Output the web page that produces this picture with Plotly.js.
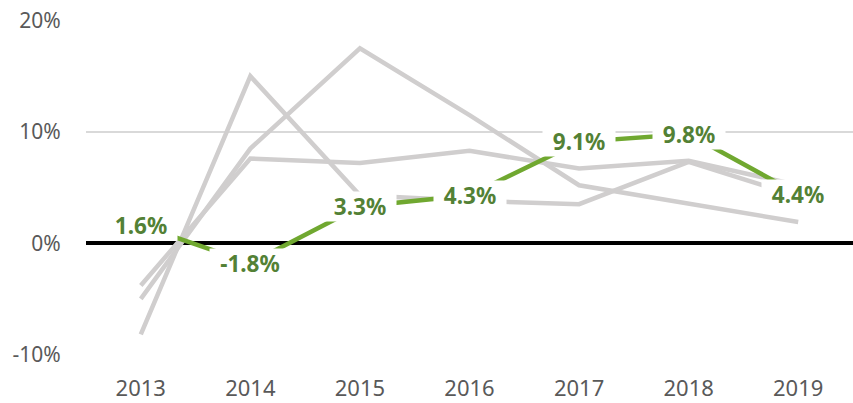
<!DOCTYPE html>
<html>
<head>
<meta charset="utf-8">
<script src="https://cdn.plot.ly/plotly-3.0.1.min.js"></script>
<style>html,body{margin:0;padding:0;background:#fff;}#chart{width:853px;height:403px;}</style>
</head>
<body>
<div id="chart"></div>
<script>
const years = ['2013','2014','2015','2016','2017','2018','2019'];
const grayA = [-8.2, 15.0, 4.3, 3.8, 3.5, 7.3, 4.2];
const grayB = [-5.0, 8.5, 17.5, 11.5, 5.2, 3.6, 1.9];
const grayC = [-3.8, 7.6, 7.2, 8.3, 6.7, 7.4, 5.2];
const highlight = [1.6, -1.8, 3.3, 4.3, 9.1, 9.8, 4.4];
const yTickVals = [-10, 0, 10, 20];
const yTickText = ['-10%', '0%', '10%', '20%'];

const GRAY = '#D0CECE';
const GREEN = '#70A830';
const LABEL = '#538135';
const FONT = 'Noto Sans, Open Sans, sans-serif';

function grayTrace(vals){
  return {x: years, y: vals, type: 'scatter', mode: 'lines',
    line: {color: GRAY, width: 4.5}, hoverinfo: 'skip', showlegend: false};
}

const traces = [
  grayTrace(grayA), grayTrace(grayB), grayTrace(grayC),
  {x: years, y: highlight, type: 'scatter', mode: 'lines',
   line: {color: GREEN, width: 4.5}, showlegend: false}
];

const annotations = highlight.map((v, i) => {
  const txt = v.toFixed(1) + '%';
  return {
    x: i, y: v, xref: 'x', yref: 'y', text: '<b>' + txt + '</b>',
    showarrow: false, bgcolor: '#ffffff', borderpad: 1,
    width: 70 + (v < 0 ? 8 : 0), height: 27,
    font: {family: FONT, size: 22.5, color: LABEL}
  };
});

const layout = {
  width: 853, height: 403,
  margin: {l: 86, r: 0, t: 20, b: 48},
  paper_bgcolor: '#ffffff', plot_bgcolor: '#ffffff',
  showlegend: false,
  xaxis: {type: 'category', range: [-0.5, 6.5], showgrid: false, zeroline: false,
    showline: false, ticks: 'outside', ticklen: 14, tickcolor: 'rgba(0,0,0,0)',
    tickfont: {family: FONT, size: 22, color: '#595959'}},
  yaxis: {range: [-10.05, 20.05], tickvals: yTickVals, ticktext: yTickText,
    showgrid: true, gridcolor: '#D9D9D9', gridwidth: 1.5,
    zeroline: true, zerolinecolor: '#000000', zerolinewidth: 3.5,
    showline: false, ticks: 'outside', ticklen: 20, tickcolor: 'rgba(0,0,0,0)',
    tickfont: {family: FONT, size: 21, color: '#595959'}},
  annotations: annotations
};

Plotly.newPlot('chart', traces, layout, {displayModeBar: false, staticPlot: true});
</script>
</body>
</html>
